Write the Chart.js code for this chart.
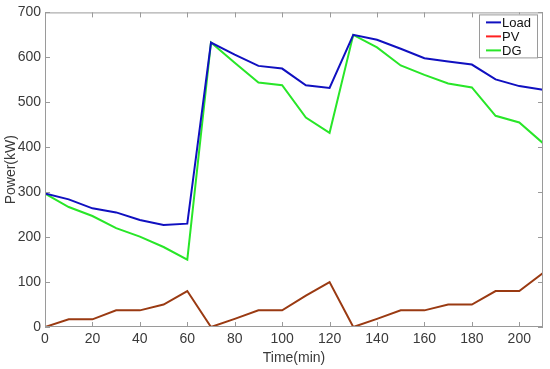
<!DOCTYPE html>
<html>
<head>
<meta charset="utf-8">
<script src="https://cdn.jsdelivr.net/npm/chart.js@4/dist/chart.umd.min.js"></script>
<style>
  html, body { margin: 0; padding: 0; background: #fff; }
  #wrap { width: 550px; height: 369px; }
</style>
</head>
<body>
<div id="wrap"><canvas id="chart" width="550" height="369"></canvas></div>
<script>
// time in minutes, one sample every 10 min
const times = [0, 10, 20, 30, 40, 50, 60, 70, 80, 90, 100, 110, 120, 130, 140, 150, 160, 170, 180, 190, 200, 210];
const load = [297, 284, 264, 255, 238, 227, 230, 633, 606, 581, 575, 538, 532, 650, 639, 619, 598, 591, 584, 551, 536, 528];
const pv   = [0, 17, 17, 37, 37, 50, 80, 0, 18, 37, 37, 70, 100, 0, 18, 37, 37, 50, 50, 80, 80, 120];
const dg   = [297, 267, 247, 220, 201, 178, 150, 633, 588, 544, 538, 466, 432, 650, 622, 582, 561, 542, 533, 470, 455, 409];

const xTicks = [0, 20, 40, 60, 80, 100, 120, 140, 160, 180, 200];
const yTicks = [0, 100, 200, 300, 400, 500, 600, 700];

const seriesNames = ['Load', 'PV', 'DG'];
const lineColors = ['#1010c0', '#9a3a12', '#28e628'];
const legendColors = ['#1010c0', '#ff2020', '#28e628'];

const FONT = "'Liberation Sans', Arial, sans-serif";
const AXIS = '#9a9a9a';
const TEXT = '#3a3a3a';

const toXY = (vals) => vals.map((v, i) => ({ x: times[i], y: v }));

// box around the plot with short inward ticks, like the original
const frame = {
  id: 'frame',
  afterDatasetsDraw(chart) {
    const { ctx, chartArea: a, scales: { x, y } } = chart;
    ctx.save();
    ctx.strokeStyle = AXIS;
    ctx.lineWidth = 1;
    ctx.strokeRect(a.left + 0.5, a.top + 0.5, a.right - a.left - 1, a.bottom - a.top - 1);
    ctx.beginPath();
    xTicks.forEach((t) => {
      const px = Math.round(x.getPixelForValue(t)) + 0.5;
      ctx.moveTo(px, a.bottom); ctx.lineTo(px, a.bottom - 5);
      ctx.moveTo(px, a.top); ctx.lineTo(px, a.top + 5);
    });
    yTicks.forEach((t) => {
      const py = Math.round(y.getPixelForValue(t)) + 0.5;
      ctx.moveTo(a.left, py); ctx.lineTo(a.left + 5, py);
      ctx.moveTo(a.right, py); ctx.lineTo(a.right - 5, py);
    });
    ctx.stroke();
    ctx.restore();
  },
};

// legend box in the top right corner of the plot
const boxLegend = {
  id: 'boxLegend',
  afterDraw(chart) {
    const { ctx, chartArea: a } = chart;
    const bx = a.right - 64, by = a.top + 2, bw = 58, bh = 43;
    ctx.save();
    ctx.fillStyle = '#fff';
    ctx.fillRect(bx, by, bw, bh);
    ctx.strokeStyle = AXIS;
    ctx.lineWidth = 1;
    ctx.strokeRect(bx + 0.5, by + 0.5, bw, bh);
    ctx.font = '13px ' + FONT;
    ctx.textBaseline = 'middle';
    seriesNames.forEach((name, i) => {
      const ly = by + 8 + i * 14;
      ctx.strokeStyle = legendColors[i];
      ctx.lineWidth = 2;
      ctx.beginPath();
      ctx.moveTo(bx + 7, ly); ctx.lineTo(bx + 22, ly);
      ctx.stroke();
      ctx.fillStyle = '#111';
      ctx.fillText(name, bx + 23, ly + 1);
    });
    ctx.restore();
  },
};

new Chart(document.getElementById('chart'), {
  type: 'line',
  data: {
    datasets: [load, pv, dg].map((vals, i) => ({
      label: seriesNames[i],
      data: toXY(vals),
      borderColor: lineColors[i],
      backgroundColor: lineColors[i],
      borderWidth: 2,
      pointRadius: 0,
      tension: 0,
      fill: false,
    })),
  },
  options: {
    responsive: false,
    animation: false,
    layout: { padding: { left: 0, right: 7, top: 10, bottom: 0 } },
    plugins: { legend: { display: false }, tooltip: { enabled: false } },
    scales: {
      x: {
        type: 'linear',
        min: 0,
        max: 210,
        grid: { display: false, drawTicks: false },
        border: { display: false },
        afterBuildTicks: (s) => { s.ticks = xTicks.map((v) => ({ value: v })); },
        afterFit: (s) => { s.height = 42; },
        ticks: { color: TEXT, font: { family: FONT, size: 14 }, padding: 4, maxRotation: 0 },
        title: { display: true, text: 'Time(min)', color: TEXT, font: { family: FONT, size: 14 }, padding: { top: 0, bottom: 2 } },
      },
      y: {
        min: 0,
        max: 700,
        grid: { display: false, drawTicks: false },
        border: { display: false },
        afterBuildTicks: (s) => { s.ticks = yTicks.map((v) => ({ value: v })); },
        afterFit: (s) => { s.width = 45; },
        ticks: { color: TEXT, font: { family: FONT, size: 14 }, padding: 4 },
        title: { display: true, text: 'Power(kW)', color: TEXT, font: { family: FONT, size: 14 }, padding: { top: 3, bottom: 0 } },
      },
    },
  },
  plugins: [frame, boxLegend],
});
</script>
</body>
</html>
